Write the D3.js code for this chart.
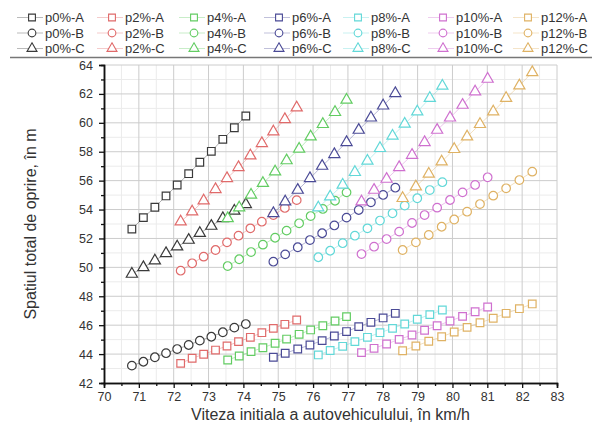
<!DOCTYPE html>
<html>
<head>
<meta charset="utf-8">
<script src="https://cdn.jsdelivr.net/npm/d3@7"></script>
<style>
  html, body { margin: 0; padding: 0; background: #fff; }
  svg { display: block; font-family: "Liberation Sans", Arial, sans-serif; }
</style>
</head>
<body>
<svg id="chart" width="592" height="428"></svg>
<script>
// ---------- DATA ----------
const groups = ["p0%", "p2%", "p4%", "p6%", "p8%", "p10%", "p12%"];
const variants = ["A", "B", "C"];
const colors = ["#3a3a3a", "#e06a6a", "#62cc62", "#4a4a96", "#62d8d8", "#cf70cf", "#dfb264"];

const xTicks = [70, 71, 72, 73, 74, 75, 76, 77, 78, 79, 80, 81, 82, 83];
const yTicks = [42, 44, 46, 48, 50, 52, 54, 56, 58, 60, 62, 64];

const speeds = [
  [70.80, 71.13, 71.46, 71.78, 72.10, 72.43, 72.75, 73.08, 73.41, 73.74, 74.07],
  [72.20, 72.53, 72.86, 73.20, 73.53, 73.86, 74.20, 74.53, 74.86, 75.19, 75.53],
  [73.55, 73.88, 74.22, 74.56, 74.91, 75.24, 75.60, 75.93, 76.28, 76.63, 76.96],
  [74.86, 75.20, 75.56, 75.91, 76.26, 76.61, 76.96, 77.31, 77.66, 78.01, 78.36],
  [76.15, 76.49, 76.85, 77.20, 77.56, 77.92, 78.28, 78.63, 78.99, 79.35, 79.71],
  [77.39, 77.75, 78.11, 78.47, 78.84, 79.20, 79.56, 79.93, 80.29, 80.65, 81.01],
  [78.57, 78.95, 79.32, 79.69, 80.05, 80.42, 80.79, 81.17, 81.54, 81.92, 82.29]
];

const valuesA = [
  [52.65, 53.44, 54.16, 54.94, 55.70, 56.48, 57.27, 58.03, 58.86, 59.66, 60.47],
  [43.36, 43.71, 43.99, 44.28, 44.56, 44.86, 45.16, 45.48, 45.78, 46.06, 46.36],
  [43.59, 43.87, 44.17, 44.44, 44.75, 45.04, 45.37, 45.67, 45.96, 46.29, 46.59],
  [43.78, 44.06, 44.35, 44.63, 44.93, 45.25, 45.56, 45.90, 46.20, 46.50, 46.82],
  [43.94, 44.25, 44.54, 44.86, 45.16, 45.48, 45.78, 46.08, 46.41, 46.73, 47.05],
  [44.10, 44.40, 44.70, 45.02, 45.32, 45.65, 45.96, 46.29, 46.61, 46.93, 47.26],
  [44.23, 44.56, 44.89, 45.20, 45.53, 45.85, 46.17, 46.48, 46.82, 47.14, 47.47]
];

const valuesB = [
  [43.20, 43.47, 43.78, 44.06, 44.35, 44.63, 44.93, 45.20, 45.51, 45.83, 46.08],
  [49.77, 50.28, 50.74, 51.20, 51.73, 52.19, 52.70, 53.16, 53.62, 54.11, 54.65],
  [50.09, 50.56, 51.06, 51.57, 52.05, 52.54, 53.05, 53.55, 54.04, 54.61, 55.19],
  [50.39, 50.90, 51.39, 51.89, 52.36, 52.90, 53.44, 53.97, 54.50, 55.01, 55.51],
  [50.70, 51.15, 51.67, 52.19, 52.70, 53.24, 53.74, 54.27, 54.78, 55.35, 55.89],
  [50.92, 51.43, 51.96, 52.47, 53.07, 53.62, 54.13, 54.66, 55.19, 55.70, 56.23],
  [51.20, 51.73, 52.24, 52.81, 53.31, 53.85, 54.38, 54.96, 55.47, 56.04, 56.62]
];

const valuesC = [
  [49.54, 50.00, 50.46, 50.97, 51.43, 51.89, 52.36, 52.86, 53.39, 53.90, 54.36],
  [53.16, 53.85, 54.61, 55.40, 56.16, 56.92, 57.73, 58.58, 59.39, 60.24, 61.05],
  [53.39, 54.13, 55.01, 55.82, 56.62, 57.39, 58.19, 59.04, 59.90, 60.73, 61.58],
  [53.74, 54.54, 55.35, 56.16, 57.01, 57.82, 58.65, 59.50, 60.35, 61.18, 62.04],
  [54.13, 54.89, 55.70, 56.58, 57.36, 58.24, 59.09, 59.92, 60.77, 61.70, 62.55],
  [54.54, 55.35, 56.11, 56.92, 57.77, 58.65, 59.50, 60.35, 61.23, 62.15, 63.03],
  [54.78, 55.58, 56.46, 57.31, 58.17, 59.04, 59.90, 60.77, 61.70, 62.57, 63.49]
];

const xTitle = "Viteza initiala a autovehiculului, în km/h";
const yTitle = "Spatiul total de oprire, în m";

// ---------- LAYOUT ----------
const svg = d3.select("#chart");
const L = 104, R = 557, T = 65, B = 383;
const x = d3.scaleLinear().domain([70, 83]).range([L, R]);
const y = d3.scaleLinear().domain([42, 64]).range([B, T]);

svg.append("rect").attr("width", 592).attr("height", 428).attr("fill", "#fff");

// grid
const g = svg.append("g");
const xMinor = d3.range(70.5, 83, 1);
const yMinor = d3.range(43, 64, 2);
g.selectAll(".xm").data(xMinor).join("line")
  .attr("x1", d => x(d)).attr("x2", d => x(d)).attr("y1", T).attr("y2", B)
  .attr("stroke", "#ebebeb").attr("stroke-width", 1);
g.selectAll(".ym").data(yMinor).join("line")
  .attr("x1", L).attr("x2", R).attr("y1", d => y(d)).attr("y2", d => y(d))
  .attr("stroke", "#ebebeb").attr("stroke-width", 1);
g.selectAll(".xM").data(xTicks.slice(1)).join("line")
  .attr("x1", d => x(d)).attr("x2", d => x(d)).attr("y1", T).attr("y2", B)
  .attr("stroke", "#cccccc").attr("stroke-width", 1);
g.selectAll(".yM").data(yTicks.slice(1)).join("line")
  .attr("x1", L).attr("x2", R).attr("y1", d => y(d)).attr("y2", d => y(d))
  .attr("stroke", "#cccccc").attr("stroke-width", 1);

// axes
const axB = svg.append("g").attr("transform", `translate(0,${B})`)
  .call(d3.axisBottom(x).tickValues(xTicks).tickSize(5).tickPadding(4).tickFormat(d3.format("d")));
const axBm = svg.append("g").attr("transform", `translate(0,${B})`)
  .call(d3.axisBottom(x).tickValues(xMinor).tickSize(3).tickFormat(""));
const axL = svg.append("g").attr("transform", `translate(${L},0)`)
  .call(d3.axisLeft(y).tickValues(yTicks).tickSize(5).tickPadding(6).tickFormat(d3.format("d")));
const axLm = svg.append("g").attr("transform", `translate(${L},0)`)
  .call(d3.axisLeft(y).tickValues(yMinor).tickSize(3).tickFormat(""));
[axB, axBm, axL, axLm].forEach(a => {
  a.select(".domain").attr("stroke", "#111").attr("stroke-width", 1.5);
  a.selectAll(".tick line").attr("stroke", "#111").attr("stroke-width", 1.3);
  a.selectAll("text").attr("font-size", 12.5).attr("fill", "#333")
    .attr("font-family", "'Liberation Sans', Arial, sans-serif");
});

// titles
svg.append("text").attr("x", (L + R) / 2).attr("y", 420).attr("text-anchor", "middle")
  .attr("font-size", 16).attr("fill", "#333").text(xTitle);
svg.append("text").attr("transform", `translate(36,${(T + B) / 2}) rotate(-90)`)
  .attr("text-anchor", "middle").attr("font-size", 16).attr("fill", "#333").text(yTitle);

// series
const symTypes = [d3.symbolSquare, d3.symbolCircle, d3.symbolTriangle];
const symSizes = [58, 58, 54];
const allValues = [valuesA, valuesB, valuesC];
const plot = svg.append("g");
const line = d3.line().x(d => x(d[0])).y(d => y(d[1]));
groups.forEach((grp, gi) => {
  allValues.forEach((vals, vi) => {
    const pts = speeds[gi].map((s, i) => [s, vals[gi][i]]);
    plot.append("path").datum(pts).attr("d", line)
      .attr("fill", "none").attr("stroke", colors[gi]).attr("stroke-width", 1)
      .attr("stroke-opacity", 0.4);
    plot.selectAll(null).data(pts).join("path")
      .attr("transform", d => `translate(${x(d[0])},${y(d[1])})`)
      .attr("d", d3.symbol().type(symTypes[vi]).size(symSizes[vi]))
      .attr("fill", "#fff").attr("stroke", colors[gi]).attr("stroke-width", 1.2);
  });
});

// legend
const legendX = [32, 112, 194, 279, 358, 443, 528];
const lg = svg.append("g");
lg.append("rect").attr("x", 0).attr("y", 0).attr("width", 592).attr("height", 57).attr("fill", "#fff");
lg.append("line").attr("x1", 10).attr("x2", 592).attr("y1", 57.5).attr("y2", 57.5)
  .attr("stroke", "#777").attr("stroke-width", 1.3);
groups.forEach((grp, gi) => {
  const cx = legendX[gi];
  variants.forEach((v, vi) => {
    const cy = 17.5 + vi * 15.5;
    lg.append("line").attr("x1", cx - 15).attr("x2", cx + 11).attr("y1", cy).attr("y2", cy)
      .attr("stroke", colors[gi]).attr("stroke-opacity", 0.35).attr("stroke-width", 1);
    lg.append("path").attr("transform", `translate(${cx},${cy})`)
      .attr("d", d3.symbol().type(symTypes[vi]).size(symSizes[vi] * 0.8))
      .attr("fill", "#fff").attr("stroke", colors[gi]).attr("stroke-width", 1.1);
    lg.append("text").attr("x", cx + 13).attr("y", cy + 4.5)
      .attr("font-size", 13).attr("fill", "#333").text(`${grp}-${v}`);
  });
});
</script>
</body>
</html>
